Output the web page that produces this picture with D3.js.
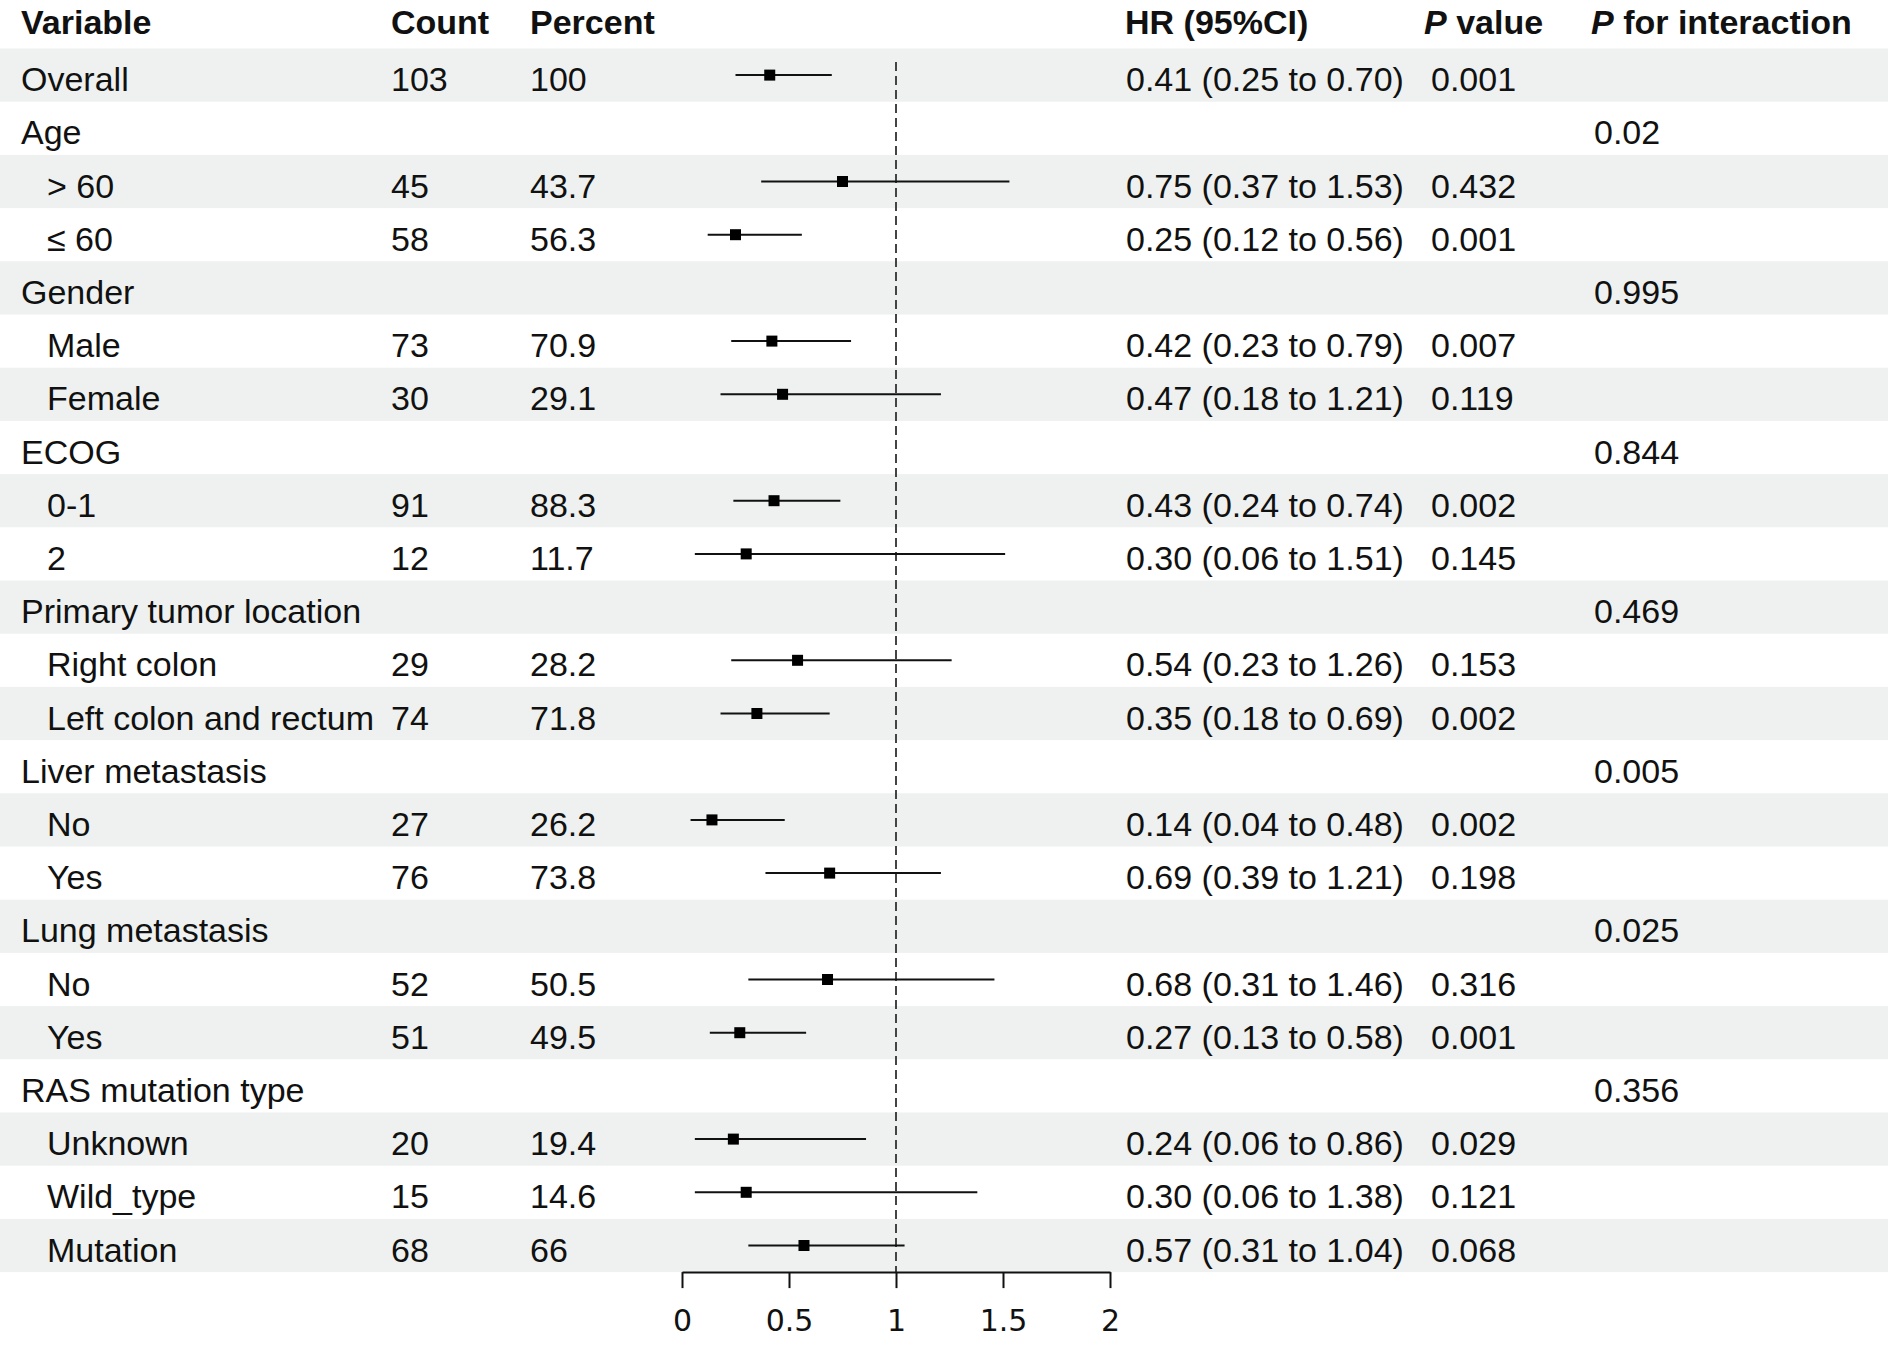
<!DOCTYPE html>
<html>
<head>
<meta charset="utf-8">
<script src="https://cdn.jsdelivr.net/npm/d3@7"></script>
<style>
  body { margin: 0; background: #fff; }
  text { font-family: "Liberation Sans", Arial, sans-serif; fill: #111; }
  .tick text { font-family: "DejaVu Sans", sans-serif; }
</style>
</head>
<body>
<div class="chart"></div>
<script>
const width = 1888;
const height = 1346;

// rows of the table, top to bottom
const labels = ["Overall", "Age", "> 60", "\u2264 60", "Gender", "Male", "Female", "ECOG", "0-1", "2",
  "Primary tumor location", "Right colon", "Left colon and rectum", "Liver metastasis", "No", "Yes",
  "Lung metastasis", "No", "Yes", "RAS mutation type", "Unknown", "Wild_type", "Mutation"];
const levels = [0, 0, 1, 1, 0, 1, 1, 0, 1, 1, 0, 1, 1, 0, 1, 1, 0, 1, 1, 0, 1, 1, 1];
const counts = [103, null, 45, 58, null, 73, 30, null, 91, 12, null, 29, 74, null, 27, 76, null, 52, 51, null, 20, 15, 68];
const percents = [100, null, 43.7, 56.3, null, 70.9, 29.1, null, 88.3, 11.7, null, 28.2, 71.8, null, 26.2, 73.8, null, 50.5, 49.5, null, 19.4, 14.6, 66];
const hr = [0.41, null, 0.75, 0.25, null, 0.42, 0.47, null, 0.43, 0.30, null, 0.54, 0.35, null, 0.14, 0.69, null, 0.68, 0.27, null, 0.24, 0.30, 0.57];
const lower = [0.25, null, 0.37, 0.12, null, 0.23, 0.18, null, 0.24, 0.06, null, 0.23, 0.18, null, 0.04, 0.39, null, 0.31, 0.13, null, 0.06, 0.06, 0.31];
const upper = [0.70, null, 1.53, 0.56, null, 0.79, 1.21, null, 0.74, 1.51, null, 1.26, 0.69, null, 0.48, 1.21, null, 1.46, 0.58, null, 0.86, 1.38, 1.04];
const pvalues = ["0.001", "", "0.432", "0.001", "", "0.007", "0.119", "", "0.002", "0.145", "", "0.153", "0.002", "", "0.002", "0.198", "", "0.316", "0.001", "", "0.029", "0.121", "0.068"];
const pinter = ["", "0.02", "", "", "0.995", "", "", "0.844", "", "", "0.469", "", "", "0.005", "", "", "0.025", "", "", "0.356", "", "", ""];
const xTicks = [0, 0.5, 1, 1.5, 2];

const rows = labels.map((l, i) => ({
  label: l, level: levels[i], count: counts[i], pct: percents[i],
  hr: hr[i], lo: lower[i], hi: upper[i], p: pvalues[i], pint: pinter[i]
}));

const svg = d3.select(".chart")
    .append("svg")
    .attr("width", width)
    .attr("height", height)
    .attr("viewBox", [0, 0, width, height]);

const y = d3.scaleBand()
    .domain(d3.range(rows.length))
    .range([48.5, 48.5 + 53.2 * rows.length]);

const x = d3.scaleLinear()
    .domain([0, 2])
    .range([682, 1110]);

const fmt = d3.format(".2f");

// shaded bands on every other row
svg.append("g")
    .selectAll("rect")
    .data(d3.range(0, rows.length, 2))
    .join("rect")
    .attr("x", 0)
    .attr("width", width)
    .attr("y", i => y(i))
    .attr("height", y.bandwidth())
    .attr("fill", "#eef1f0");

// header
const head = svg.append("g")
    .attr("font-size", 34)
    .attr("font-weight", "bold");
head.append("text").attr("x", 21).attr("y", 34).text("Variable");
head.append("text").attr("x", 391).attr("y", 34).text("Count");
head.append("text").attr("x", 530).attr("y", 34).text("Percent");
head.append("text").attr("x", 1125).attr("y", 34).text("HR (95%CI)");
let ph = head.append("text").attr("x", 1424).attr("y", 34);
ph.append("tspan").attr("font-style", "italic").text("P");
ph.append("tspan").text(" value");
let pih = head.append("text").attr("x", 1591).attr("y", 34);
pih.append("tspan").attr("font-style", "italic").text("P");
pih.append("tspan").text(" for interaction");

// table text
const cy = i => y(i) + y.bandwidth() / 2;
const body = svg.append("g").attr("font-size", 34);
const rowG = body.selectAll("g")
    .data(rows)
    .join("g")
    .attr("transform", (d, i) => `translate(0,${cy(i) + 16})`);

rowG.append("text")
    .attr("x", d => d.level === 0 ? 21 : 47)
    .text(d => d.label);
rowG.append("text").attr("x", 391).text(d => d.count == null ? "" : d.count);
rowG.append("text").attr("x", 530).text(d => d.pct == null ? "" : d.pct);
rowG.append("text").attr("x", 1126)
    .text(d => d.hr == null ? "" : `${fmt(d.hr)} (${fmt(d.lo)} to ${fmt(d.hi)})`);
rowG.append("text").attr("x", 1431).text(d => d.p);
rowG.append("text").attr("x", 1594).text(d => d.pint);

// reference line at HR = 1
svg.append("line")
    .attr("x1", x(1)).attr("x2", x(1))
    .attr("y1", 62).attr("y2", y.range()[1])
    .attr("stroke", "#444")
    .attr("stroke-width", 2)
    .attr("stroke-dasharray", "9,5");

// CI lines and point estimates
const est = rows.map((d, i) => ({ ...d, i })).filter(d => d.hr != null);
svg.append("g")
    .selectAll("line")
    .data(est)
    .join("line")
    .attr("x1", d => x(d.lo))
    .attr("x2", d => x(d.hi))
    .attr("y1", d => cy(d.i))
    .attr("y2", d => cy(d.i))
    .attr("stroke", "#111")
    .attr("stroke-width", 2);
svg.append("g")
    .selectAll("rect")
    .data(est)
    .join("rect")
    .attr("x", d => x(d.hr) - 5.5)
    .attr("y", d => cy(d.i) - 5.5)
    .attr("width", 11)
    .attr("height", 11)
    .attr("fill", "#000");

// x axis
const axis = svg.append("g")
    .attr("transform", `translate(0,${y.range()[1]})`)
    .call(d3.axisBottom(x).tickValues(xTicks).tickFormat(d3.format("")).tickSize(16).tickSizeOuter(0).tickPadding(22));
axis.select(".domain").attr("stroke", "#111").attr("stroke-width", 2);
axis.selectAll(".tick line").attr("stroke", "#111").attr("stroke-width", 2);
axis.selectAll(".tick text").attr("font-size", 30).attr("fill", "#222");
</script>
</body>
</html>
